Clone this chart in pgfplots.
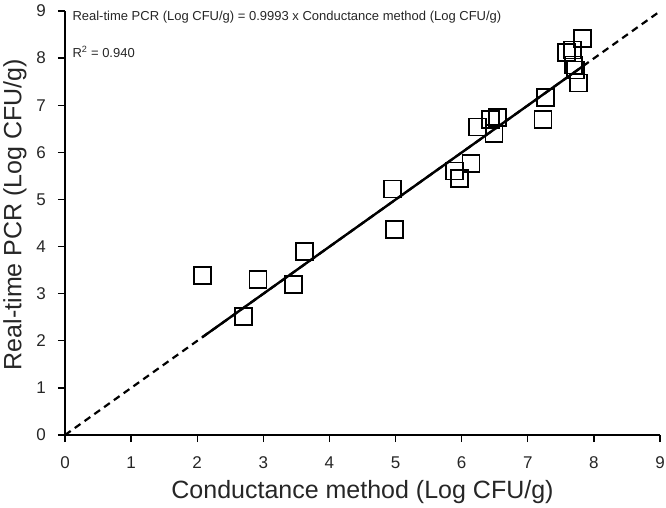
\documentclass[border=0pt]{standalone}
\usepackage{pgfplots}
\pgfplotsset{compat=1.18}
\usepackage{fontspec}
\setmainfont{Liberation Sans}
\begin{document}
\begin{tikzpicture}
\begin{axis}[
  scale only axis, width=595pt, height=424pt,
  xmin=0, xmax=9, ymin=0, ymax=9,
  axis x line=bottom, axis y line=left,
  axis line style={-, line width=1.6pt},
  xtick={0,...,9}, ytick={0,...,9},
  tick align=outside, major tick length=7pt,
  tick style={line width=1.4pt, black},
  /pgf/number format/assume math mode=true,
  ticklabel style={font=\fontsize{17}{20}\selectfont, text=black!85},
  xticklabel style={anchor=center, yshift=-21pt},
  yticklabel style={anchor=center, xshift=-17pt},
  xlabel={Conductance method (Log CFU/g)},
  ylabel={Real-time PCR (Log CFU/g)},
  label style={font=\fontsize{25}{29}\selectfont, text=black!85},
  xlabel style={at={(axis description cs:0.5,0)}, anchor=center, yshift=-57pt},
  ylabel style={at={(axis description cs:0,0.52)}, anchor=center, yshift=50pt},
  clip=false,
]
\addplot[black, line width=2.2pt, dash pattern=on 7pt off 5pt] coordinates {(0,0) (9,8.994)};
\addplot[black, line width=2.4pt] coordinates {(2.08,2.079) (7.85,7.845)};
\addplot[only marks, mark=square, mark size=8.5pt, mark options={line width=1.6pt, black}] table {
2.08 3.38
2.70 2.52
2.92 3.30
3.46 3.19
3.62 3.89
4.95 5.22
4.98 4.36
5.89 5.60
5.97 5.45
6.14 5.76
6.24 6.54
6.44 6.70
6.54 6.74
6.49 6.40
7.23 6.70
7.27 7.17
7.59 8.12
7.68 8.17
7.83 8.42
7.69 7.85
7.72 7.75
7.77 7.47
};
\node[anchor=west, font=\fontsize{13}{15}\selectfont, text=black!85] at (axis cs:0.06,8.87) {Real-time PCR (Log CFU/g) = 0.9993 x Conductance method (Log CFU/g)};
\node[anchor=west, font=\fontsize{13}{15}\selectfont, text=black!85] at (axis cs:0.06,8.13) {R\textsuperscript{2} = 0.940};
\end{axis}
\pgfresetboundingbox
\path[use as bounding box] ([shift={(-65pt,-72pt)}]current axis.south west) rectangle ([shift={(6pt,11pt)}]current axis.north east);
\end{tikzpicture}
\end{document}
